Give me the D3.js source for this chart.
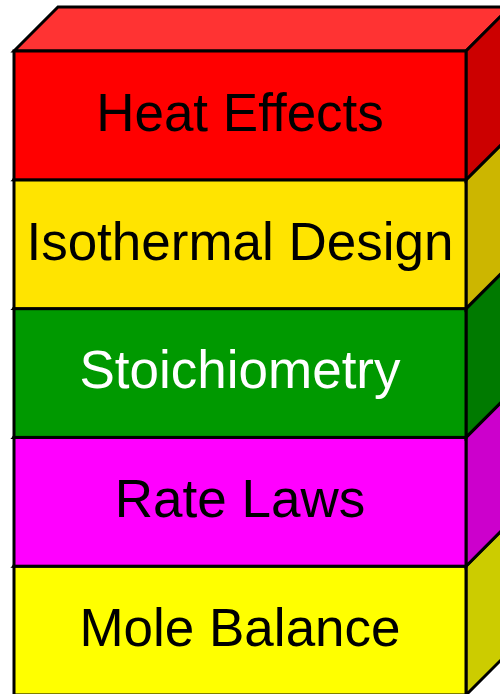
<!DOCTYPE html>
<html>
<head>
<meta charset="utf-8">
<script src="https://cdn.jsdelivr.net/npm/d3@7"></script>
<style>
  html, body { margin: 0; padding: 0; background: #fff; overflow: hidden; }
</style>
</head>
<body>
<div id="chart"></div>
<script>
// layers, bottom to top
const layers = ["Mole Balance", "Rate Laws", "Stoichiometry", "Isothermal Design", "Heat Effects"];
const layerColors = ["#FFFF00", "#FF00FF", "#009900", "#FFE400", "#FF0000"];
const labelColors = ["#000", "#000", "#fff", "#000", "#000"];

const width = 500, height = 694;
const margin = { top: 51, left: 14, right: 34 };
const depth = 44;

const svg = d3.select("#chart").append("svg")
    .attr("width", width)
    .attr("height", height)
    .attr("font-family", "'Liberation Sans', Arial, sans-serif");

const x = d3.scaleLinear().domain([0, 1]).range([margin.left, width - margin.right]);
const y = d3.scaleBand().domain(layers).range([695, margin.top]);

const shade = (c, k) => { const r = d3.rgb(c); return d3.rgb(r.r * k, r.g * k, r.b * k).formatHex(); };
const tint = (c, k) => d3.interpolateRgb(c, "#fff")(k);

const x0 = x(0), x1 = x(1), bh = y.bandwidth();

const block = svg.selectAll("g.block")
    .data(layers.map((name, i) => ({ name, color: layerColors[i], label: labelColors[i] })))
    .join("g")
    .attr("class", "block");

block.append("path") // top face
    .attr("d", d => {
        const t = y(d.name);
        return `M${x0},${t}L${x0 + depth},${t - depth}L${x1 + depth},${t - depth}L${x1},${t}Z`;
    })
    .attr("fill", d => tint(d.color, 0.2));

block.append("path") // right face
    .attr("d", d => {
        const t = y(d.name);
        return `M${x1},${t}L${x1 + depth},${t - depth}L${x1 + depth},${t + bh - depth}L${x1},${t + bh}Z`;
    })
    .attr("fill", d => shade(d.color, 0.8));

block.append("rect") // front face
    .attr("x", x0)
    .attr("y", d => y(d.name))
    .attr("width", x1 - x0)
    .attr("height", bh)
    .attr("fill", d => d.color);

block.selectAll("path, rect")
    .attr("stroke", "#000")
    .attr("stroke-width", 3)
    .attr("stroke-linejoin", "miter");

block.append("text")
    .attr("x", (x0 + x1) / 2)
    .attr("y", d => y(d.name) + bh / 2)
    .attr("dy", "0.29em")
    .attr("text-anchor", "middle")
    .attr("font-size", 53)
    .attr("fill", d => d.label)
    .text(d => d.name);
</script>
</body>
</html>
